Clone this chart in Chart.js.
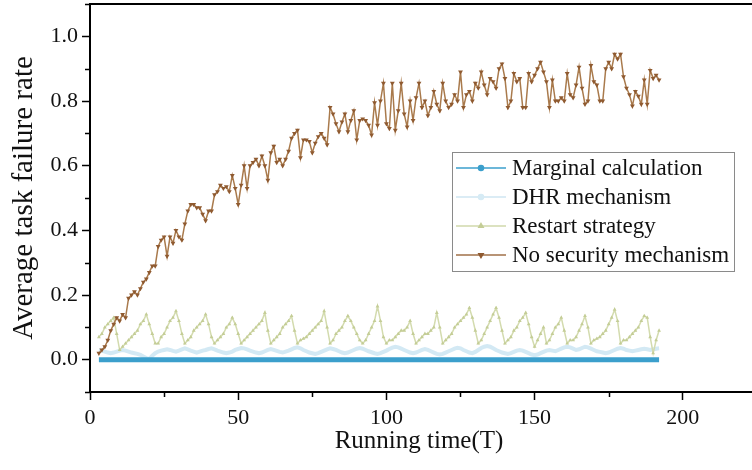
<!DOCTYPE html>
<html lang="en">
<head>
<meta charset="UTF-8">
<title>Average task failure rate</title>
<script src="https://cdn.jsdelivr.net/npm/chart.js"></script>
<style>
body { margin: 0; background: #fff; }
#wrap { width: 752px; height: 470px; }
</style>
</head>
<body>
<div id="wrap"><canvas id="chart" width="752" height="470"></canvas></div>
<script>
// sampling times run from T=3 to T=192, one sample per unit
const startTime = 3;
const sampleCount = 190;

const seriesNames = ['Marginal calculation', 'DHR mechanism', 'Restart strategy', 'No security mechanism'];

const marginalCalc = [
  0, 0, 0, 0, 0, 0, 0, 0, 0, 0,
  0, 0, 0, 0, 0, 0, 0, 0, 0, 0,
  0, 0, 0, 0, 0, 0, 0, 0, 0, 0,
  0, 0, 0, 0, 0, 0, 0, 0, 0, 0,
  0, 0, 0, 0, 0, 0, 0, 0, 0, 0,
  0, 0, 0, 0, 0, 0, 0, 0, 0, 0,
  0, 0, 0, 0, 0, 0, 0, 0, 0, 0,
  0, 0, 0, 0, 0, 0, 0, 0, 0, 0,
  0, 0, 0, 0, 0, 0, 0, 0, 0, 0,
  0, 0, 0, 0, 0, 0, 0, 0, 0, 0,
  0, 0, 0, 0, 0, 0, 0, 0, 0, 0,
  0, 0, 0, 0, 0, 0, 0, 0, 0, 0,
  0, 0, 0, 0, 0, 0, 0, 0, 0, 0,
  0, 0, 0, 0, 0, 0, 0, 0, 0, 0,
  0, 0, 0, 0, 0, 0, 0, 0, 0, 0,
  0, 0, 0, 0, 0, 0, 0, 0, 0, 0,
  0, 0, 0, 0, 0, 0, 0, 0, 0, 0,
  0, 0, 0, 0, 0, 0, 0, 0, 0, 0,
  0, 0, 0, 0, 0, 0, 0, 0, 0, 0
];

const dhrMechanism = [
  0.030, 0.028, 0.025, 0.022, 0.020, 0.022, 0.025, 0.028, 0.030, 0.028,
  0.025, 0.022, 0.020, 0.018, 0.015, 0.010, 0.005, 0.002, 0.012, 0.020,
  0.025, 0.028, 0.030, 0.032, 0.030, 0.027, 0.025, 0.028, 0.032, 0.035,
  0.032, 0.028, 0.025, 0.022, 0.025, 0.028, 0.030, 0.033, 0.035, 0.032,
  0.028, 0.025, 0.022, 0.020, 0.022, 0.025, 0.030, 0.033, 0.036, 0.035,
  0.032, 0.028, 0.025, 0.022, 0.020, 0.022, 0.026, 0.030, 0.033, 0.030,
  0.027, 0.024, 0.022, 0.025, 0.028, 0.032, 0.036, 0.038, 0.035, 0.030,
  0.026, 0.022, 0.020, 0.018, 0.020, 0.024, 0.028, 0.032, 0.035, 0.033,
  0.030, 0.026, 0.022, 0.020, 0.022, 0.026, 0.030, 0.034, 0.036, 0.034,
  0.030, 0.026, 0.023, 0.020, 0.018, 0.020, 0.024, 0.028, 0.033, 0.037,
  0.040, 0.038, 0.034, 0.030, 0.026, 0.022, 0.020, 0.022, 0.026, 0.030,
  0.033, 0.030, 0.026, 0.022, 0.018, 0.016, 0.018, 0.022, 0.026, 0.030,
  0.034, 0.037, 0.035, 0.030, 0.026, 0.022, 0.020, 0.024, 0.030, 0.036,
  0.040, 0.042, 0.040, 0.035, 0.030, 0.026, 0.022, 0.020, 0.018, 0.020,
  0.024, 0.028, 0.030, 0.028, 0.024, 0.020, 0.016, 0.014, 0.016, 0.020,
  0.024, 0.028, 0.030, 0.028, 0.026, 0.030, 0.034, 0.038, 0.040, 0.038,
  0.034, 0.030, 0.032, 0.036, 0.040, 0.038, 0.034, 0.030, 0.026, 0.024,
  0.022, 0.020, 0.022, 0.026, 0.030, 0.034, 0.036, 0.034, 0.030, 0.028,
  0.026, 0.028, 0.030, 0.032, 0.034, 0.032, 0.030, 0.032, 0.034, 0.035
];

const restartStrategy = [
  0.07, 0.08, 0.10, 0.11, 0.12, 0.13, 0.08, 0.03, 0.04, 0.05,
  0.06, 0.07, 0.08, 0.09, 0.11, 0.12, 0.14, 0.11, 0.08, 0.05,
  0.05, 0.07, 0.08, 0.10, 0.12, 0.13, 0.15, 0.12, 0.08, 0.05,
  0.06, 0.07, 0.09, 0.10, 0.11, 0.12, 0.14, 0.11, 0.07, 0.05,
  0.06, 0.07, 0.08, 0.10, 0.11, 0.13, 0.11, 0.08, 0.05, 0.06,
  0.07, 0.08, 0.09, 0.10, 0.11, 0.12, 0.145, 0.09, 0.05, 0.06,
  0.07, 0.08, 0.10, 0.11, 0.12, 0.135, 0.09, 0.05, 0.06, 0.065,
  0.07, 0.08, 0.09, 0.10, 0.11, 0.12, 0.15, 0.10, 0.05, 0.06,
  0.08, 0.09, 0.10, 0.12, 0.135, 0.12, 0.10, 0.08, 0.06, 0.05,
  0.06, 0.08, 0.10, 0.12, 0.165, 0.12, 0.07, 0.05, 0.06, 0.06,
  0.07, 0.08, 0.09, 0.09, 0.10, 0.12, 0.08, 0.05, 0.06, 0.07,
  0.08, 0.08, 0.09, 0.10, 0.145, 0.10, 0.05, 0.06, 0.07, 0.08,
  0.10, 0.11, 0.12, 0.13, 0.14, 0.16, 0.13, 0.09, 0.05, 0.06,
  0.08, 0.10, 0.12, 0.14, 0.16, 0.13, 0.09, 0.05, 0.06, 0.07,
  0.09, 0.10, 0.12, 0.13, 0.145, 0.11, 0.07, 0.04, 0.06, 0.08,
  0.10, 0.05, 0.06, 0.08, 0.10, 0.11, 0.13, 0.09, 0.05, 0.06,
  0.06, 0.07, 0.09, 0.11, 0.135, 0.10, 0.05, 0.06, 0.065, 0.07,
  0.08, 0.09, 0.11, 0.13, 0.155, 0.12, 0.05, 0.06, 0.06, 0.07,
  0.08, 0.09, 0.10, 0.12, 0.135, 0.13, 0.07, 0.02, 0.06, 0.09
];

const noSecurity = [
  0.02, 0.03, 0.04, 0.06, 0.09, 0.11, 0.13, 0.12, 0.14, 0.13,
  0.19, 0.20, 0.21, 0.20, 0.22, 0.24, 0.25, 0.27, 0.29, 0.29,
  0.35, 0.37, 0.38, 0.32, 0.38, 0.36, 0.40, 0.38, 0.37, 0.42,
  0.46, 0.48, 0.48, 0.47, 0.47, 0.45, 0.43, 0.46, 0.46, 0.51,
  0.52, 0.54, 0.53, 0.535, 0.52, 0.57, 0.53, 0.48, 0.54, 0.60,
  0.53, 0.60, 0.61, 0.62, 0.60, 0.63, 0.60, 0.555, 0.64, 0.66,
  0.61, 0.62, 0.60, 0.62, 0.645, 0.685, 0.70, 0.71, 0.625, 0.68,
  0.68, 0.675, 0.64, 0.67, 0.69, 0.70, 0.685, 0.665, 0.78, 0.76,
  0.73, 0.705, 0.735, 0.76, 0.705, 0.74, 0.77, 0.68, 0.74, 0.745,
  0.74, 0.725, 0.695, 0.795, 0.725, 0.80, 0.855, 0.73, 0.715, 0.855,
  0.71, 0.77, 0.855, 0.76, 0.72, 0.80, 0.74, 0.81, 0.855, 0.78,
  0.80, 0.755, 0.78, 0.83, 0.79, 0.77, 0.855, 0.80, 0.78, 0.79,
  0.82, 0.80, 0.89, 0.78, 0.82, 0.83, 0.80, 0.855, 0.84, 0.89,
  0.85, 0.82, 0.87, 0.86, 0.84, 0.90, 0.915, 0.87, 0.78, 0.80,
  0.885, 0.86, 0.87, 0.78, 0.78, 0.885, 0.86, 0.88, 0.90, 0.92,
  0.89, 0.86, 0.78, 0.865, 0.80, 0.80, 0.81, 0.80, 0.885, 0.82,
  0.81, 0.85, 0.905, 0.84, 0.79, 0.80, 0.91, 0.86, 0.85, 0.80,
  0.80, 0.90, 0.92, 0.90, 0.945, 0.93, 0.945, 0.875, 0.84, 0.82,
  0.785, 0.83, 0.815, 0.79, 0.865, 0.79, 0.895, 0.87, 0.88, 0.865
];

const times = Array.from({ length: sampleCount }, (_, i) => startTime + i);
const toPoints = vals => vals.map((v, i) => ({ x: times[i], y: v }));

const serif = '"Liberation Serif", "DejaVu Serif", serif';
const isMajorY = v => { const k = Math.round(v * 10); return k >= 0 && k <= 10 && k % 2 === 0; };
const isMajorX = v => Math.round(v) % 50 === 0;

// draws top frame line, minor ticks and the boxed legend
const decorPlugin = {
  id: 'decor',
  afterDraw(chart) {
    const { ctx, chartArea, scales } = chart;
    ctx.save();
    ctx.strokeStyle = '#000';
    ctx.lineWidth = 2;
    ctx.beginPath();
    ctx.moveTo(chartArea.left - 1, chartArea.top);
    ctx.lineTo(752, chartArea.top);
    // the bottom axis runs on to the picture's edge
    ctx.moveTo(chartArea.right - 1, chartArea.bottom);
    ctx.lineTo(752, chartArea.bottom);
    ctx.stroke();

    ctx.lineWidth = 1.5;
    ctx.beginPath();
    scales.x.ticks.forEach(t => {
      if (isMajorX(t.value)) return;
      const px = Math.round(scales.x.getPixelForValue(t.value)) + 0.5;
      ctx.moveTo(px, chartArea.bottom);
      ctx.lineTo(px, chartArea.bottom + 5);
    });
    scales.y.ticks.forEach(t => {
      if (isMajorY(t.value)) return;
      const py = Math.round(scales.y.getPixelForValue(t.value)) + 0.5;
      ctx.moveTo(chartArea.left, py);
      ctx.lineTo(chartArea.left - 5, py);
    });
    ctx.stroke();

    // legend
    const bx = 452, by = 152, bw = 282, bh = 119, rowH = 29;
    ctx.fillStyle = '#fff';
    ctx.fillRect(bx, by, bw, bh);
    ctx.strokeStyle = '#8a8a8a';
    ctx.lineWidth = 1;
    ctx.strokeRect(bx + 0.5, by + 0.5, bw, bh);
    chart.data.datasets.forEach((ds, i) => {
      const y = by + 16 + i * rowH;
      ctx.strokeStyle = ds.legendColor;
      ctx.lineWidth = 1.5;
      ctx.beginPath();
      ctx.moveTo(bx + 4, y);
      ctx.lineTo(bx + 54, y);
      ctx.stroke();
      ctx.fillStyle = ds.pointBackgroundColor;
      ctx.strokeStyle = ds.pointBackgroundColor;
      Chart.helpers.drawPoint(ctx, { pointStyle: ds.pointStyle, rotation: ds.pointRotation || 0, radius: 2.5, borderWidth: 1 }, bx + 29, y);
      ctx.fillStyle = '#111';
      ctx.font = '23px ' + serif;
      ctx.textBaseline = 'middle';
      ctx.fillText(ds.label, bx + 60, y + 1);
    });
    ctx.restore();
  }
};

new Chart(document.getElementById('chart'), {
  type: 'line',
  data: {
    datasets: [
      {
        label: seriesNames[0], data: toPoints(marginalCalc), order: 1,
        borderColor: '#3b9fcc', borderWidth: 5, legendColor: '#3b9fcc',
        pointStyle: 'circle', pointRadius: 0, pointBackgroundColor: '#3b9fcc'
      },
      {
        label: seriesNames[1], data: toPoints(dhrMechanism), order: 3,
        borderColor: '#d3e9f4', borderWidth: 4, legendColor: '#cfe6f2',
        pointStyle: 'circle', pointRadius: 0, pointBackgroundColor: '#d6ebf5'
      },
      {
        label: seriesNames[2], data: toPoints(restartStrategy), order: 2,
        borderColor: '#d3dbae', borderWidth: 1.5, legendColor: '#d0d8ab',
        pointStyle: 'triangle', pointRadius: 2.2, pointBorderWidth: 0,
        pointBackgroundColor: '#c4cd96'
      },
      {
        label: seriesNames[3], data: toPoints(noSecurity), order: 0,
        borderColor: '#a97a4c', borderWidth: 1.5, legendColor: '#a07048',
        pointStyle: 'triangle', pointRotation: 180, pointRadius: 2.8, pointBorderWidth: 0,
        pointBackgroundColor: '#8f5a30'
      }
    ]
  },
  options: {
    responsive: false,
    animation: false,
    devicePixelRatio: 1,
    layout: { padding: { top: 4, left: 0, right: 0, bottom: 0 } },
    plugins: { legend: { display: false }, tooltip: { enabled: false } },
    elements: { line: { tension: 0 } },
    scales: {
      x: {
        type: 'linear', min: 0, max: 222,
        afterFit: s => { s.height = 78; s.paddingLeft = 0; s.paddingRight = 0; },
        border: { color: '#000', width: 2 },
        grid: {
          drawOnChartArea: false, tickLength: 8, tickWidth: 1.5,
          tickColor: c => isMajorX(c.tick.value) ? '#000' : 'rgba(0,0,0,0)'
        },
        ticks: {
          stepSize: 25, includeBounds: false, autoSkip: false, maxRotation: 0,
          color: '#111', font: { family: serif, size: 22 }, padding: 5,
          callback: v => isMajorX(v) ? String(Math.round(v)) : ''
        },
        title: {
          display: true, text: 'Running time(T)', color: '#111',
          font: { family: serif, size: 25 }, padding: { top: 0, bottom: 14 }
        }
      },
      y: {
        min: -0.1, max: 1.1,
        afterFit: s => { s.width = 90; s.paddingTop = 0; s.paddingBottom = 0; },
        border: { color: '#000', width: 2 },
        grid: {
          drawOnChartArea: false, tickLength: 8, tickWidth: 1.5,
          tickColor: c => isMajorY(c.tick.value) ? '#000' : 'rgba(0,0,0,0)'
        },
        ticks: {
          stepSize: 0.1, includeBounds: false, autoSkip: false,
          color: '#111', font: { family: serif, size: 22 }, padding: 4,
          callback: v => isMajorY(v) ? (Math.round(v * 10) / 10).toFixed(1) : ''
        },
        title: {
          display: true, text: 'Average task failure rate', color: '#111',
          font: { family: serif, size: 29 }, padding: { top: 7, bottom: 0 }
        }
      }
    }
  },
  plugins: [decorPlugin]
});
</script>
</body>
</html>
